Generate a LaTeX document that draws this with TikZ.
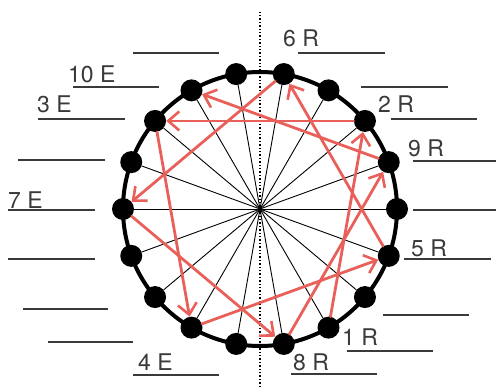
\documentclass[tikz,border=0pt]{standalone}
\usepackage{fontspec}
\setmainfont{TeX Gyre Heros}
\usepackage{tikz}
\usetikzlibrary{arrows.meta,calc}
\definecolor{ArrowRed}{HTML}{E9605A}
\definecolor{BlankGray}{HTML}{3A3A3A}

\begin{document}
\begin{tikzpicture}[x=1pt,y=1pt,
  dot/.style={circle,fill=black,inner sep=0pt,minimum size=22pt},
  blank/.style={BlankGray,line width=1.8pt},
  seat/.style={anchor=base west,inner sep=0pt,text=BlankGray,font=\fontsize{23}{25}\selectfont},
  hop/.style={ArrowRed,line width=2.8pt,line cap=round,
    -{Straight Barb[length=11pt,width=19pt,line width=2.6pt]}}]
  \useasboundingbox (0,0) rectangle (496,389);
  \coordinate (c) at (260,180);
  \coordinate (top) at (260,379);
  \coordinate (bot) at (260,2);
  \draw[dotted,line width=1.4pt] (bot) -- (top);
  \draw[line width=4pt] (c) circle (137);
  \foreach \i in {0,...,17}
    \node[dot] (d\i) at ($(c)+(\i*20:137)$) {};
  \foreach \i in {0,...,17}
    \draw[line width=0.9pt] (c) -- (d\i);
  \foreach \xa/\xb/\yy in {133/219/336,73/159/302,38/125/270,18/105/229,8/95/179,
      8/95/130,23/108/80,48/133/47,133/219/14,298/385/336,361/448/302,391/477/270,
      413/499/228,413/496/179,404/491/130,383/469/74,347/433/38,291/377/15}
    \draw[blank] (\xa,\yy) -- (\xb,\yy);
  \node[seat] (l1) at (342,44) {1 R};
  \node[seat] (l2) at (378,276) {2 R};
  \node[seat] (l3) at (37,276) {3 E};
  \node[seat] (l4) at (138,19) {4 E};
  \node[seat] (l5) at (411,132) {5 R};
  \node[seat] (l6) at (283,342) {6 R};
  \node[seat] (l7) at (8,180) {7 E};
  \node[seat] (l8) at (293,19) {8 R};
  \node[seat] (l9) at (408,232) {9 R};
  \node[seat] (l10) at (68,306) {10 E};
  \foreach \a/\b in {15/2,2/7,7/12,12/17,17/4,4/9,9/14,14/1,1/6}
    \draw[hop] (d\a) -- (d\b);
\end{tikzpicture}
\end{document}
